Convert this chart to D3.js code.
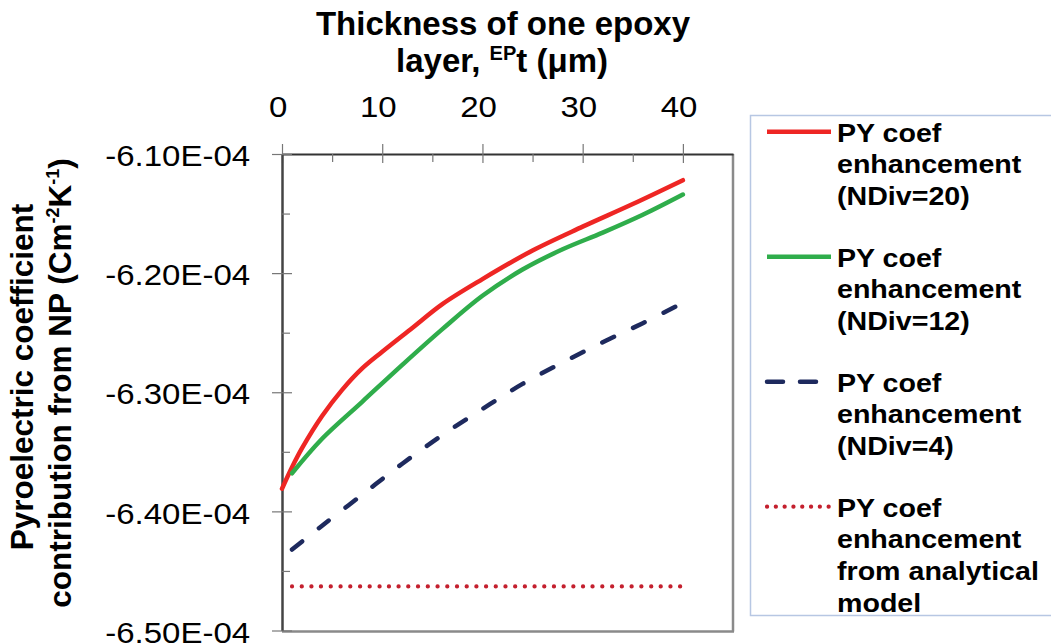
<!DOCTYPE html>
<html>
<head>
<meta charset="utf-8">
<script src="https://cdn.jsdelivr.net/npm/d3@7"></script>
<style>
  body { margin: 0; background: #fff; }
  svg { display: block; font-family: "Liberation Sans", Arial, sans-serif; }
</style>
</head>
<body>
<svg id="chart" width="1051" height="644"></svg>
<script>
// thickness of one epoxy layer (um) and PY coefficient values
const tRed = [0, 1, 2, 4, 6, 8, 10, 13, 16, 20, 25, 30, 35, 40];
const pyRed = [-6.381e-4, -6.363e-4, -6.347e-4, -6.320e-4, -6.298e-4, -6.280e-4, -6.266e-4,
  -6.246e-4, -6.226e-4, -6.205e-4, -6.181e-4, -6.161e-4, -6.142e-4, -6.122e-4];

const tGreen = [1, 4, 8, 12, 16, 20, 24, 28, 32, 36, 40];
const pyGreen = [-6.368e-4, -6.339e-4, -6.308e-4, -6.277e-4, -6.247e-4, -6.219e-4,
  -6.197e-4, -6.180e-4, -6.166e-4, -6.151e-4, -6.134e-4];

const tBlue = [1, 4, 8, 12, 16, 20, 24, 28, 32, 36, 40];
const pyBlue = [-6.432e-4, -6.412e-4, -6.386e-4, -6.360e-4, -6.336e-4, -6.314e-4,
  -6.293e-4, -6.275e-4, -6.258e-4, -6.242e-4, -6.225e-4];

const tModel = [1, 10, 20, 30, 40];
const pyModel = [-6.463e-4, -6.463e-4, -6.463e-4, -6.463e-4, -6.463e-4];

const xTicks = [0, 10, 20, 30, 40];
const xMinor = [5, 15, 25, 35];
const yTicks = [-6.1e-4, -6.2e-4, -6.3e-4, -6.4e-4, -6.5e-4];
const yMinor = [-6.15e-4, -6.25e-4, -6.35e-4, -6.45e-4];

const legendNames = [
  ["PY coef", "enhancement", "(NDiv=20)"],
  ["PY coef", "enhancement", "(NDiv=12)"],
  ["PY coef", "enhancement", "(NDiv=4)"],
  ["PY coef", "enhancement", "from analytical", "model"],
];

const series = [
  { t: tRed, v: pyRed, color: "#ee2624", width: 4.5, dash: null },
  { t: tGreen, v: pyGreen, color: "#2fad4b", width: 4.5, dash: null },
  { t: tBlue, v: pyBlue, color: "#1e2a5e", width: 4.5, dash: "13,21" },
  { t: tModel, v: pyModel, color: "#c4202e", width: 4.2, dash: "0.1,9.6" },
];

const plotLeft = 282, plotRight = 733, plotTop = 154, plotBottom = 630.5;

const x = d3.scaleLinear().domain([0, 45]).range([plotLeft, plotRight]);
const y = d3.scaleLinear().domain([-6.5e-4, -6.1e-4]).range([plotBottom, plotTop]);

const svg = d3.select("#chart");

// frame: right and bottom sides are grey
svg.append("line")
  .attr("x1", plotRight).attr("x2", plotRight).attr("y1", plotTop).attr("y2", plotBottom + 1)
  .attr("stroke", "#8a8a8a").attr("stroke-width", 2.5);
svg.append("line")
  .attr("x1", plotLeft).attr("x2", plotRight + 1).attr("y1", plotBottom + 1).attr("y2", plotBottom + 1)
  .attr("stroke", "#8a8a8a").attr("stroke-width", 2.5);

// top x axis with labels
const xAxis = svg.append("g")
  .attr("transform", `translate(0,${plotTop})`)
  .call(d3.axisTop(x).tickValues(xTicks).tickSize(10).tickSizeOuter(0).tickPadding(27));
xAxis.select(".domain").attr("stroke", "#333").attr("stroke-width", 2);
xAxis.selectAll(".tick line").attr("stroke", "#777").attr("stroke-width", 1.2);
xAxis.selectAll(".tick text")
  .attr("x", -4)
  .attr("transform", "scale(1.1,1)")
  .style("font-size", "30px")
  .attr("fill", "#000");

// lower halves of the major ticks and the minor ticks
svg.append("g")
  .attr("transform", `translate(0,${plotTop})`)
  .call(d3.axisTop(x).tickValues(xTicks).tickSize(-9).tickFormat(""))
  .call((g) => g.select(".domain").remove())
  .selectAll("line").attr("stroke", "#777").attr("stroke-width", 1.2);
svg.append("g")
  .attr("transform", `translate(0,${plotTop})`)
  .call(d3.axisTop(x).tickValues(xMinor).tickSize(-8).tickFormat(""))
  .call((g) => g.select(".domain").remove())
  .selectAll("line").attr("stroke", "#777").attr("stroke-width", 1.2);

// left y axis
const yAxis = svg.append("g")
  .attr("transform", `translate(${plotLeft},0)`)
  .call(d3.axisLeft(y).tickValues(yTicks).tickSize(10).tickSizeOuter(0).tickPadding(20)
    .tickFormat((d) => (d * 1e4).toFixed(2) + "E-04"));
yAxis.select(".domain").attr("stroke", "#444").attr("stroke-width", 2.5);
yAxis.selectAll(".tick line").attr("stroke", "#777").attr("stroke-width", 1.2);
yAxis.selectAll(".tick text")
  .attr("transform", "scale(1.1,1)")
  .attr("x", -29)
  .attr("dy", "0.39em")
  .style("font-size", "30px")
  .attr("fill", "#000");

svg.append("g")
  .attr("transform", `translate(${plotLeft},0)`)
  .call(d3.axisLeft(y).tickValues(yTicks).tickSize(-10).tickFormat(""))
  .call((g) => g.select(".domain").remove())
  .selectAll("line").attr("stroke", "#777").attr("stroke-width", 1.2);
svg.append("g")
  .attr("transform", `translate(${plotLeft},0)`)
  .call(d3.axisLeft(y).tickValues(yMinor).tickSize(-8).tickFormat(""))
  .call((g) => g.select(".domain").remove())
  .selectAll("line").attr("stroke", "#777").attr("stroke-width", 1.2);

// series lines (smoothed like the spreadsheet curves)
const line = d3.line()
  .x((d) => x(d[0]))
  .y((d) => y(d[1]))
  .curve(d3.curveCatmullRom.alpha(0.5));

series.forEach((s) => {
  const pts = s.t.map((t, i) => [t, s.v[i]]);
  svg.append("path")
    .datum(pts)
    .attr("d", line)
    .attr("fill", "none")
    .attr("stroke", s.color)
    .attr("stroke-width", s.width)
    .attr("stroke-linecap", "round")
    .attr("stroke-dasharray", s.dash);
});

// axis titles
const title = svg.append("text")
  .attr("text-anchor", "middle")
  .style("font-weight", "bold")
  .style("font-size", "33px");
title.append("tspan").attr("x", 503).attr("y", 35).text("Thickness of one epoxy");
const t2 = title.append("tspan").attr("x", 502).attr("y", 72);
t2.append("tspan").text("layer, ");
t2.append("tspan").attr("dy", -12).style("font-size", "20px").text("EP");
t2.append("tspan").attr("dy", 12).text("t (μm)");

const yTitle = svg.append("g").style("font-weight", "bold").style("font-size", "31.5px");
yTitle.append("text")
  .attr("text-anchor", "middle")
  .attr("transform", "translate(33,377) rotate(-90)")
  .text("Pyroelectric coefficient");
const yt2 = yTitle.append("text")
  .attr("text-anchor", "middle")
  .attr("transform", "translate(71,383) rotate(-90)");
yt2.append("tspan").text("contribution from NP (Cm");
yt2.append("tspan").attr("dy", -12).style("font-size", "18px").text("-2");
yt2.append("tspan").attr("dy", 12).text("K");
yt2.append("tspan").attr("dy", -12).style("font-size", "18px").text("-1");
yt2.append("tspan").attr("dy", 12).text(")");

// legend
svg.append("rect")
  .attr("x", 750.5).attr("y", 115.5)
  .attr("width", 320).attr("height", 500)
  .attr("fill", "#fff")
  .attr("stroke", "#b7c7e3")
  .attr("stroke-width", 1.5);

const legend = svg.append("g");
series.forEach((s, i) => {
  const base = 141.7 + i * 125;
  legend.append("line")
    .attr("x1", 767).attr("x2", i === 2 ? 818 : i === 3 ? 829 : 831)
    .attr("y1", base - 10).attr("y2", base - 10)
    .attr("stroke", s.color)
    .attr("stroke-width", s.width)
    .attr("stroke-linecap", s.dash ? "round" : "butt")
    .attr("stroke-dasharray", s.dash ? (i === 2 ? "16,17" : "0.1,8.7") : null);
  legendNames[i].forEach((name, j) => {
    legend.append("text")
      .attr("transform", `translate(837,${base + j * 31.7}) scale(1.1,1)`)
      .style("font-weight", "bold")
      .style("font-size", "26px")
      .text(name);
  });
});
</script>
</body>
</html>
